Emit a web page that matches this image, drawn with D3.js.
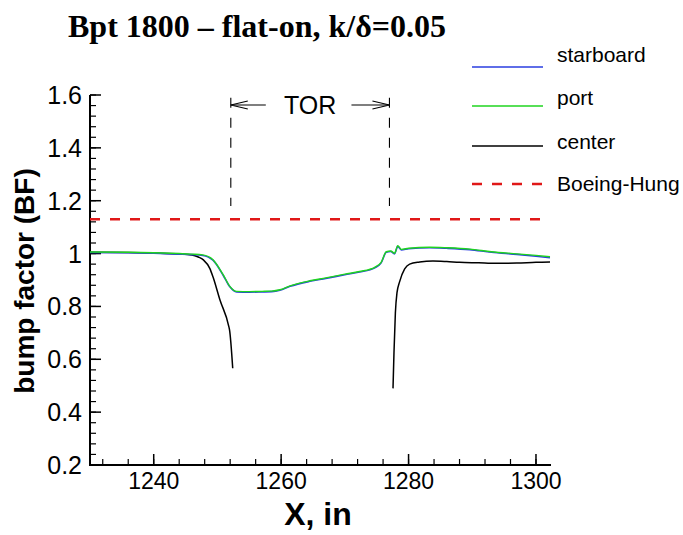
<!DOCTYPE html>
<html>
<head>
<meta charset="utf-8">
<script src="https://cdn.jsdelivr.net/npm/d3@7"></script>
<style>
  html, body { margin: 0; padding: 0; background: #fff; }
  svg { display: block; }
</style>
</head>
<body>
<svg id="chart" width="683" height="535"></svg>
<script>
// ---------------- data ----------------
const xTicks = [1240, 1260, 1280, 1300];
const yTicks = [0.2, 0.4, 0.6, 0.8, 1.0, 1.2, 1.4, 1.6];
const yTickLabels = ["0.2", "0.4", "0.6", "0.8", "1", "1.2", "1.4", "1.6"];

const starboardX = [1230, 1236, 1240, 1244, 1246, 1247.7, 1249.3, 1250.9, 1251.95, 1253, 1255, 1257, 1258.5,
  1259.8, 1261.4, 1264.5, 1267, 1270, 1272.3, 1274.7, 1275.7, 1276.5, 1277.2, 1277.8, 1278.3, 1278.85,
  1280, 1283.3, 1286, 1289.6, 1293, 1297, 1300, 1302.2];
const starboardY = [1.004, 1.003, 1.001, 0.998, 0.996, 0.993, 0.975, 0.918, 0.874, 0.855, 0.854, 0.855, 0.856,
  0.861, 0.876, 0.895, 0.906, 0.92, 0.93, 0.946, 0.965, 1.005, 1.008, 0.999, 1.027, 1.014,
  1.018, 1.022, 1.02, 1.015, 1.005, 0.997, 0.99, 0.984];

const portX = [1230, 1236, 1240, 1244, 1246, 1247.7, 1249.3, 1250.9, 1251.95, 1253, 1255, 1257, 1258.5,
  1259.8, 1261.4, 1264.5, 1267, 1270, 1272.3, 1274.7, 1275.7, 1276.5, 1277.2, 1277.8, 1278.3, 1278.85,
  1280, 1283.3, 1286, 1289.6, 1293, 1297, 1300, 1302.2];
const portY = [1.006, 1.005, 1.003, 1.0, 0.998, 0.995, 0.977, 0.92, 0.876, 0.857, 0.856, 0.857, 0.858,
  0.863, 0.878, 0.897, 0.908, 0.922, 0.932, 0.948, 0.967, 1.007, 1.01, 1.001, 1.03, 1.016,
  1.02, 1.024, 1.022, 1.017, 1.007, 0.999, 0.993, 0.988];

const centerX = [1230, 1236, 1240, 1244, 1246, 1247, 1247.8, 1248.8, 1249.3, 1250.4, 1251.8, 1251.9, 1252.4,
  null,
  1277.56, 1277.71, 1277.93, 1278.18, 1278.6, 1279.39, 1280.17, 1281.74, 1283.83, 1286, 1288, 1291, 1293.7, 1297, 1300, 1302.2];
const centerY = [1.005, 1.004, 1.002, 0.999, 0.995, 0.987, 0.976, 0.944, 0.912, 0.824, 0.723, 0.711, 0.566,
  null,
  0.49, 0.624, 0.775, 0.851, 0.894, 0.942, 0.96, 0.968, 0.972, 0.97, 0.967, 0.965, 0.963, 0.964, 0.967, 0.968];

const boeingHungValue = 1.13;
const torStart = 1252.1, torEnd = 1277.0;
const torTop = 1.59, torBottom = 1.18, torArrowY = 1.562;

const seriesNames = ["starboard", "port", "center", "Boeing-Hung"];
const seriesColors = ["#2a3ee0", "#1fd41f", "#000000", "#e01818"];

// ---------------- chart ----------------
const svg = d3.select("#chart");
const x = d3.scaleLinear().domain([1230, 1302.2]).range([90, 550]);
const y = d3.scaleLinear().domain([0.2, 1.6]).range([465, 95]);

// title
svg.append("text")
  .attr("x", 68).attr("y", 37)
  .attr("font-family", "'Liberation Serif', 'Times New Roman', serif")
  .attr("font-weight", "bold").attr("font-size", 32)
  .text("Bpt 1800 \u2013 flat-on, k/\u03B4=0.05");

// axes
const xMinor = d3.range(1232, 1302.2, 4);
const yMinor = d3.range(0.2, 1.6001, 0.04);

const gx = svg.append("g");
gx.selectAll("line.minor").data(xMinor).join("line")
  .attr("x1", d => x(d)).attr("x2", d => x(d))
  .attr("y1", 465).attr("y2", 459).attr("stroke", "#000").attr("stroke-width", 1.2);
gx.selectAll("line.major").data(xTicks).join("line")
  .attr("x1", d => x(d)).attr("x2", d => x(d))
  .attr("y1", 465).attr("y2", 454).attr("stroke", "#000").attr("stroke-width", 1.5);
gx.selectAll("text").data(xTicks).join("text")
  .attr("x", d => x(d)).attr("y", 489)
  .attr("text-anchor", "middle")
  .attr("font-family", "'Liberation Sans', Arial, sans-serif").attr("font-size", 23)
  .text(d => d);

const gy = svg.append("g");
gy.selectAll("line.minor").data(yMinor).join("line")
  .attr("x1", 90).attr("x2", 96)
  .attr("y1", d => y(d)).attr("y2", d => y(d)).attr("stroke", "#000").attr("stroke-width", 1.2);
gy.selectAll("line.major").data(yTicks).join("line")
  .attr("x1", 90).attr("x2", 101)
  .attr("y1", d => y(d)).attr("y2", d => y(d)).attr("stroke", "#000").attr("stroke-width", 1.5);
gy.selectAll("text").data(yTicks).join("text")
  .attr("x", 82).attr("y", d => y(d) + 9)
  .attr("text-anchor", "end")
  .attr("font-family", "'Liberation Sans', Arial, sans-serif").attr("font-size", 25)
  .text((d, i) => yTickLabels[i]);

svg.append("line").attr("x1", 90).attr("x2", 90).attr("y1", 95).attr("y2", 466)
  .attr("stroke", "#000").attr("stroke-width", 2);
svg.append("line").attr("x1", 89).attr("x2", 551).attr("y1", 465).attr("y2", 465)
  .attr("stroke", "#000").attr("stroke-width", 2);

// axis labels
svg.append("text")
  .attr("transform", "translate(34,281) rotate(-90)")
  .attr("text-anchor", "middle")
  .attr("font-family", "'Liberation Sans', Arial, sans-serif").attr("font-weight", "bold").attr("font-size", 28)
  .text("bump factor (BF)");
svg.append("text")
  .attr("x", 318).attr("y", 525)
  .attr("text-anchor", "middle")
  .attr("font-family", "'Liberation Sans', Arial, sans-serif").attr("font-weight", "bold").attr("font-size", 32)
  .text("X, in");

// Boeing-Hung line
svg.append("line")
  .attr("x1", x(1230)).attr("x2", x(1302.2)).attr("y1", y(boeingHungValue)).attr("y2", y(boeingHungValue))
  .attr("stroke", seriesColors[3]).attr("stroke-width", 2.5).attr("stroke-dasharray", "10,10");

// series lines
const line = d3.line()
  .defined(d => d[0] !== null && d[1] !== null)
  .x(d => x(d[0])).y(d => y(d[1]))
  .curve(d3.curveMonotoneX);

function draw(xs, ys, color, w) {
  svg.append("path")
    .datum(xs.map((v, i) => [v, ys[i]]))
    .attr("fill", "none").attr("stroke", color).attr("stroke-width", w)
    .attr("d", line);
}
draw(centerX, centerY, seriesColors[2], 1.5);
draw(starboardX, starboardY, seriesColors[0], 1.6);
draw(portX, portY, seriesColors[1], 1.4);

// TOR annotation
const tor = svg.append("g").attr("stroke", "#000").attr("stroke-width", 1.1).attr("fill", "none");
[torStart, torEnd].forEach(v => {
  tor.append("line").attr("x1", x(v)).attr("x2", x(v)).attr("y1", y(torTop)).attr("y2", y(torBottom))
    .attr("stroke-dasharray", "10,10");
});
const ay = y(torArrowY);
tor.append("line").attr("x1", x(torStart)).attr("x2", x(torStart) + 35).attr("y1", ay).attr("y2", ay);
tor.append("path").attr("d", `M${x(torStart) + 17},${ay - 4} L${x(torStart)},${ay} L${x(torStart) + 17},${ay + 4}`);
tor.append("line").attr("x1", x(torEnd) - 38).attr("x2", x(torEnd)).attr("y1", ay).attr("y2", ay);
tor.append("path").attr("d", `M${x(torEnd) - 17},${ay - 4} L${x(torEnd)},${ay} L${x(torEnd) - 17},${ay + 4}`);
svg.append("text")
  .attr("x", (x(torStart) + x(torEnd)) / 2).attr("y", ay + 9)
  .attr("text-anchor", "middle")
  .attr("font-family", "'Liberation Sans', Arial, sans-serif").attr("font-size", 25)
  .text("TOR");

// legend
const legendLineY = [67, 106, 146, 184];
const legendTextY = [62, 105, 149, 191];
const lg = svg.append("g");
seriesNames.forEach((name, i) => {
  lg.append("line").attr("x1", 472).attr("x2", 543)
    .attr("y1", legendLineY[i]).attr("y2", legendLineY[i])
    .attr("stroke", seriesColors[i]).attr("stroke-width", i === 3 ? 2.5 : 1.3)
    .attr("stroke-dasharray", i === 3 ? "10,10" : null);
  lg.append("text").attr("x", 557).attr("y", legendTextY[i])
    .attr("font-family", "'Liberation Sans', Arial, sans-serif").attr("font-size", 21)
    .text(name);
});
</script>
</body>
</html>
